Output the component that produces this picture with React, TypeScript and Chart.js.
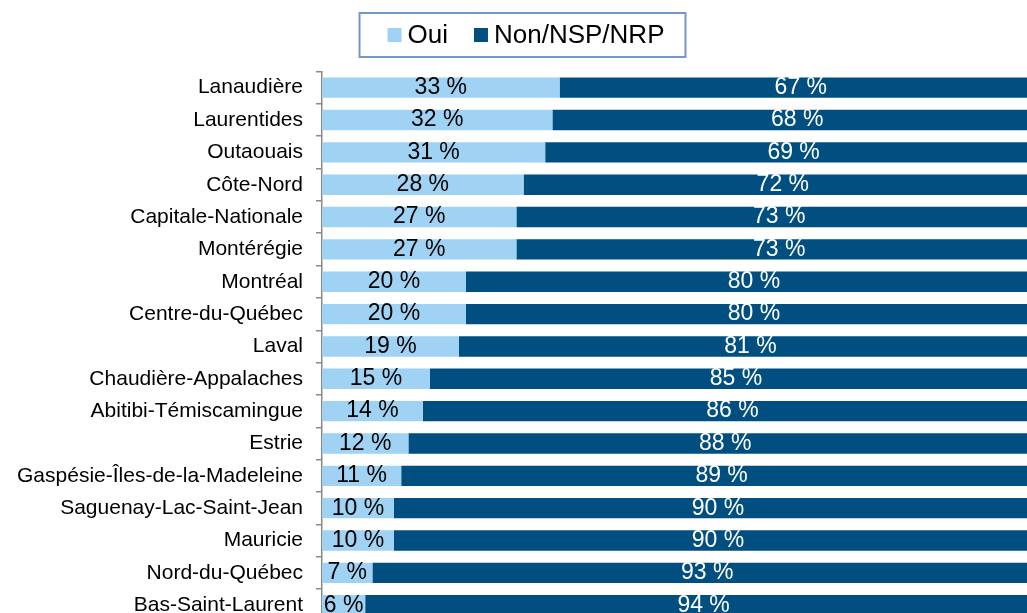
import React, { useEffect, useRef } from "react";
import { Chart, registerables } from "chart.js";

Chart.register(...registerables);

const categories = [
  "Lanaudière",
  "Laurentides",
  "Outaouais",
  "Côte-Nord",
  "Capitale-Nationale",
  "Montérégie",
  "Montréal",
  "Centre-du-Québec",
  "Laval",
  "Chaudière-Appalaches",
  "Abitibi-Témiscamingue",
  "Estrie",
  "Gaspésie-Îles-de-la-Madeleine",
  "Saguenay-Lac-Saint-Jean",
  "Mauricie",
  "Nord-du-Québec",
  "Bas-Saint-Laurent",
];

const ouiValues = [33, 32, 31, 28, 27, 27, 20, 20, 19, 15, 14, 12, 11, 10, 10, 7, 6];
const nonValues = [67, 68, 69, 72, 73, 73, 80, 80, 81, 85, 86, 88, 89, 90, 90, 93, 94];

const seriesNames = ["Oui", "Non/NSP/NRP"];
const seriesColors = ["#a0d2f3", "#014f81"];
const labelColors = ["#000000", "#ffffff"];

const FONT = "'Liberation Sans', Arial, Helvetica, sans-serif";

const labelPlugin = {
  id: "barLabels",
  afterDatasetsDraw(chart: any) {
    const ctx = chart.ctx;
    ctx.save();
    ctx.font = `23px ${FONT}`;
    ctx.textAlign = "center";
    ctx.textBaseline = "middle";
    chart.data.datasets.forEach((ds: any, di: number) => {
      const meta = chart.getDatasetMeta(di);
      meta.data.forEach((el: any, i: number) => {
        const v = ds.data[i];
        const cx = (el.x + el.base) / 2;
        ctx.fillStyle = labelColors[di];
        ctx.fillText(`${v} %`, cx, el.y);
      });
    });
    ctx.restore();
  },
};

const legendPlugin = {
  id: "boxedLegend",
  afterDraw(chart: any) {
    const ctx = chart.ctx;
    ctx.save();
    ctx.font = `26px ${FONT}`;
    const box = 14;
    const gap = 6;
    const itemGap = 26;
    const widths = seriesNames.map((n) => box + gap + ctx.measureText(n).width);
    const total = widths.reduce((a, b) => a + b, 0) + itemGap * (seriesNames.length - 1);
    const cy = 35;
    let x = chart.width / 2 - total / 2;
    const left = x - 28;
    const right = x + total + 21;
    ctx.strokeStyle = "#7397c9";
    ctx.lineWidth = 2;
    ctx.strokeRect(left, cy - 22, right - left, 44);
    ctx.textBaseline = "middle";
    ctx.textAlign = "left";
    seriesNames.forEach((n, i) => {
      ctx.fillStyle = seriesColors[i];
      ctx.fillRect(x, cy - box / 2, box, box);
      ctx.fillStyle = "#000";
      ctx.fillText(n, x + box + gap, cy + 1);
      x += widths[i] + itemGap;
    });
    ctx.restore();
  },
};

export default function App() {
  const ref = useRef<HTMLCanvasElement>(null);
  useEffect(() => {
    if (!ref.current) return;
    const chart = new Chart(ref.current, {
      type: "bar",
      data: {
        labels: categories,
        datasets: [
          {
            label: seriesNames[0],
            data: ouiValues,
            backgroundColor: seriesColors[0],
            barPercentage: 0.63,
            categoryPercentage: 1,
          },
          {
            label: seriesNames[1],
            data: nonValues,
            backgroundColor: seriesColors[1],
            barPercentage: 0.63,
            categoryPercentage: 1,
          },
        ],
      },
      options: {
        indexAxis: "y",
        responsive: false,
        animation: false,
        layout: { padding: { top: 71.5, right: 10, bottom: 1, left: 0 } },
        plugins: {
          legend: { display: false },
          tooltip: { enabled: false },
        },
        scales: {
          x: { stacked: true, min: 0, max: 100, display: false },
          y: {
            stacked: true,
            afterFit: (s: any) => {
              s.width = 322;
            },
            border: { display: true, color: "#8a8a8a", width: 1.5 },
            grid: {
              drawOnChartArea: false,
              tickLength: 6,
              color: "#8a8a8a",
              lineWidth: 1.5,
              offset: true,
            },
            ticks: {
              color: "#000",
              padding: 13,
              font: { family: FONT, size: 21 },
              autoSkip: false,
            },
          },
        },
      },
      plugins: [labelPlugin, legendPlugin],
    });
    return () => chart.destroy();
  }, []);
  return (
    <div
      style={{
        position: "fixed",
        top: 0,
        left: 0,
        width: 1027,
        height: 613,
        overflow: "hidden",
        background: "#fff",
      }}
    >
      <canvas ref={ref} width={1052} height={647} style={{ display: "block" }} />
    </div>
  );
}
